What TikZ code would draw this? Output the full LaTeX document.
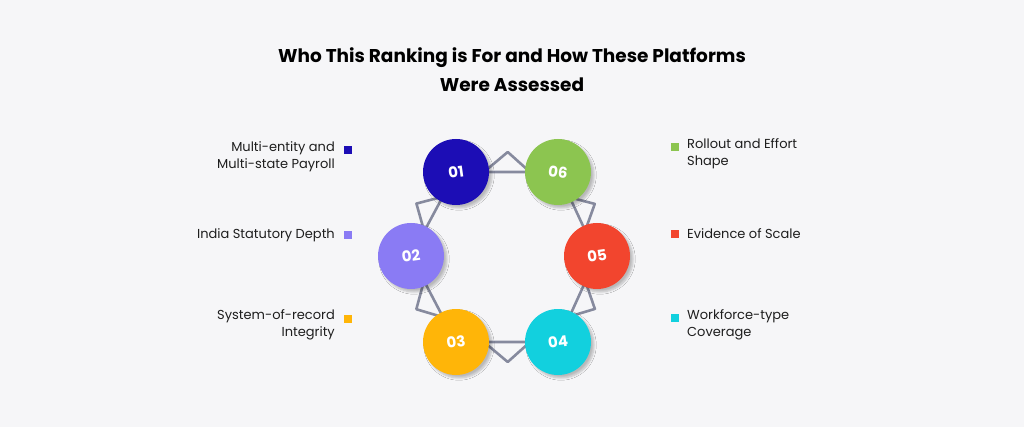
\documentclass[tikz,border=0pt]{standalone}
\usepackage{fontspec}
\setmainfont{Poppins}
\usetikzlibrary{shadows.blur,calc}
\definecolor{bg}{HTML}{F6F6F8}
\definecolor{cA}{HTML}{1C0DB5}
\definecolor{cB}{HTML}{8A7BF4}
\definecolor{cC}{HTML}{FFB508}
\definecolor{cD}{HTML}{12D0DE}
\definecolor{cE}{HTML}{F2452E}
\definecolor{cF}{HTML}{8CC550}
\definecolor{conn}{HTML}{868A9E}
\definecolor{txt}{HTML}{1E1E1E}
\begin{document}
\begin{tikzpicture}[x=1pt,y=-1pt,
  num/.style={circle,minimum size=66pt,inner sep=0pt,text=white,font=\fontsize{15}{15}\selectfont\bfseries,blur shadow={shadow blur steps=6,shadow xshift=3pt,shadow yshift=-3pt,shadow opacity=25}},
  sq/.style={minimum size=8pt,inner sep=0pt},
  lbl/.style={font=\fontsize{13}{17}\selectfont,text=txt,inner sep=0pt},
  tent/.style={draw=conn,line width=2.6pt,line join=round}]
\fill[bg] (0,0) rectangle (1024,427);
\useasboundingbox (0,0) rectangle (1024,427);
\node[font=\fontsize{18.5}{29}\selectfont\bfseries,align=center,text=black] (title) at (512,70) {Who This Ranking is For and How These Platforms\\Were Assessed};
\coordinate (ctr) at (504,257);
% connectors
\foreach \a/\b/\ax/\ay in {456/172/558/172, 558/172/597/256, 597/256/558/342, 558/342/456/342, 456/342/411/256, 411/256/456/172}{
  \path (\a,\b) coordinate (p1) (\ax,\ay) coordinate (p2);
  \coordinate (m) at ($(p1)!0.5!(p2)$);
  \coordinate (apex) at ($(m)!-20pt!(ctr)$);
  \draw[tent] ($(p1)!28pt!(p2)$) -- (apex) -- ($(p2)!28pt!(p1)$) -- cycle;
}
\node[num,fill=cA] (n1) at (456,172) {\rotatebox{8}{01}};
\node[num,fill=cF] (n6) at (558,172) {\rotatebox{-8}{06}};
\node[num,fill=cB] (n2) at (411,256) {\rotatebox{8}{02}};
\node[num,fill=cE] (n5) at (597,256) {\rotatebox{8}{05}};
\node[num,fill=cC] (n3) at (456,342) {\rotatebox{8}{03}};
\node[num,fill=cD] (n4) at (558,342) {\rotatebox{8}{04}};
% squares
\node[sq,fill=cA] (s1) at (348,150) {};
\node[sq,fill=cB] (s2) at (348,235) {};
\node[sq,fill=cC] (s3) at (348,319) {};
\node[sq,fill=cF] (s6) at (675,147) {};
\node[sq,fill=cE] (s5) at (675,234) {};
\node[sq,fill=cD] (s4) at (675,318) {};
% labels
\node[lbl,align=right,anchor=north east] (l1) at (335,141) {Multi-entity and\\Multi-state Payroll};
\node[lbl,align=right,anchor=east] (l2) at (335,235) {India Statutory Depth};
\node[lbl,align=right,anchor=north east] (l3) at (335,309) {System-of-record\\Integrity};
\node[lbl,align=left,anchor=north west] (l6) at (687,138) {Rollout and Effort\\Shape};
\node[lbl,align=left,anchor=west] (l5) at (687,234) {Evidence of Scale};
\node[lbl,align=left,anchor=north west] (l4) at (687,309) {Workforce-type\\Coverage};
\end{tikzpicture}
\end{document}
